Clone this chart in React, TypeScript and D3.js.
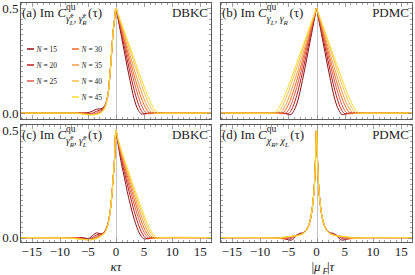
import { useEffect, useRef } from "react";
import * as d3 from "d3";

// time grid shared by every curve (kappa*tau or |mu_F|*tau)
const tau = [-17, -8, -7.5, -7, -6.5, -6, -5.5, -5, -4.5, -4, -3.5, -3, -2.5, -2, -1.5, -1, -0.5, -0.25,
  0, 0.25, 0.5, 1, 1.5, 2, 2.5, 3, 3.5, 4, 4.5, 5, 5.5, 6, 6.5, 7, 7.5, 8, 17];

const nList = [15, 20, 25, 30, 35, 40, 45];
const colors = ["#8e1111", "#b81d1d", "#e2574b", "#f26a1e", "#f59a42", "#f8bf4c", "#fbdc2e"];
const xTicks = [-15, -10, -5, 0, 5, 10, 15];
const yTicks = [0, 0.5];

// (a) DBKC  gamma_L, gamma_R
const a15 = [0, 0, 0, 0, 0, 0, 0.001, 0.002, 0.006, 0.012, 0.018, 0.02, 0.022, 0.036, 0.08, 0.21, 0.39, 0.45, 0.5, 0.465, 0.43, 0.36, 0.29, 0.22, 0.155, 0.092, 0.043, 0.012, -0.004, -0.004, -0.001, 0, 0, 0, 0, 0, 0];
const a20 = [0, 0, 0, 0, 0, 0, 0, 0, -0.002, 0.002, 0.008, 0.014, 0.018, 0.033, 0.078, 0.21, 0.39, 0.45, 0.5, 0.47, 0.44, 0.378, 0.316, 0.254, 0.193, 0.135, 0.084, 0.042, 0.012, -0.003, -0.003, 0, 0, 0, 0, 0, 0];
const a25 = [0, 0, 0, 0, 0, 0, 0, -0.002, -0.004, -0.004, 0, 0.008, 0.014, 0.031, 0.077, 0.21, 0.39, 0.45, 0.5, 0.472, 0.445, 0.39, 0.335, 0.28, 0.225, 0.172, 0.122, 0.078, 0.04, 0.012, -0.002, -0.003, 0, 0, 0, 0, 0];
const a30 = [0, 0, 0, 0, 0, 0, -0.002, -0.004, -0.006, -0.006, -0.004, 0.002, 0.01, 0.029, 0.076, 0.21, 0.39, 0.45, 0.5, 0.475, 0.45, 0.4, 0.35, 0.3, 0.25, 0.202, 0.155, 0.111, 0.072, 0.039, 0.014, -0.001, -0.003, 0, 0, 0, 0];
const a35 = [0, 0, 0, 0, 0, -0.002, -0.004, -0.006, -0.007, -0.007, -0.005, 0, 0.008, 0.027, 0.075, 0.21, 0.39, 0.45, 0.5, 0.477, 0.455, 0.41, 0.365, 0.32, 0.275, 0.23, 0.186, 0.144, 0.104, 0.067, 0.036, 0.013, -0.001, -0.002, 0, 0, 0];
const a40 = [0, 0, 0, 0, -0.002, -0.004, -0.006, -0.007, -0.008, -0.008, -0.006, -0.002, 0.006, 0.026, 0.074, 0.21, 0.39, 0.45, 0.5, 0.48, 0.46, 0.42, 0.38, 0.34, 0.299, 0.258, 0.217, 0.177, 0.138, 0.1, 0.065, 0.035, 0.013, -0.001, -0.002, 0, 0];
const a45 = [0, 0, 0, -0.002, -0.003, -0.005, -0.007, -0.008, -0.009, -0.008, -0.006, -0.003, 0.005, 0.025, 0.074, 0.21, 0.39, 0.45, 0.5, 0.481, 0.463, 0.426, 0.389, 0.351, 0.314, 0.276, 0.238, 0.2, 0.163, 0.127, 0.092, 0.06, 0.033, 0.012, 0, -0.001, 0];

// (b) PDMC  gamma_L, gamma_R
const b15 = [0, 0, 0, 0, 0, 0, -0.001, -0.006, -0.007, 0.012, 0.043, 0.092, 0.155, 0.22, 0.29, 0.36, 0.43, 0.465, 0.5, 0.465, 0.43, 0.36, 0.29, 0.22, 0.155, 0.092, 0.043, 0.012, -0.007, -0.006, -0.001, 0, 0, 0, 0, 0, 0];
const b20 = [0, 0, 0, 0, 0, 0, -0.003, -0.003, 0.012, 0.042, 0.084, 0.135, 0.193, 0.254, 0.316, 0.378, 0.44, 0.47, 0.5, 0.47, 0.44, 0.378, 0.316, 0.254, 0.193, 0.135, 0.084, 0.042, 0.012, -0.003, -0.003, 0, 0, 0, 0, 0, 0];
const b25 = [0, 0, 0, 0, 0, -0.003, -0.002, 0.012, 0.04, 0.078, 0.122, 0.172, 0.225, 0.28, 0.335, 0.39, 0.445, 0.472, 0.5, 0.472, 0.445, 0.39, 0.335, 0.28, 0.225, 0.172, 0.122, 0.078, 0.04, 0.012, -0.002, -0.003, 0, 0, 0, 0, 0];
const b30 = [0, 0, 0, 0, -0.003, -0.001, 0.014, 0.039, 0.072, 0.111, 0.155, 0.202, 0.25, 0.3, 0.35, 0.4, 0.45, 0.475, 0.5, 0.475, 0.45, 0.4, 0.35, 0.3, 0.25, 0.202, 0.155, 0.111, 0.072, 0.039, 0.014, -0.001, -0.003, 0, 0, 0, 0];
const b35 = [0, 0, 0, -0.002, -0.001, 0.013, 0.036, 0.067, 0.104, 0.144, 0.186, 0.23, 0.275, 0.32, 0.365, 0.41, 0.455, 0.477, 0.5, 0.477, 0.455, 0.41, 0.365, 0.32, 0.275, 0.23, 0.186, 0.144, 0.104, 0.067, 0.036, 0.013, -0.001, -0.002, 0, 0, 0];
const b40 = [0, 0, -0.002, -0.001, 0.013, 0.035, 0.065, 0.1, 0.138, 0.177, 0.217, 0.258, 0.299, 0.34, 0.38, 0.42, 0.46, 0.48, 0.5, 0.48, 0.46, 0.42, 0.38, 0.34, 0.299, 0.258, 0.217, 0.177, 0.138, 0.1, 0.065, 0.035, 0.013, -0.001, -0.002, 0, 0];
const b45 = [0, -0.001, 0, 0.012, 0.033, 0.06, 0.092, 0.127, 0.163, 0.2, 0.238, 0.276, 0.314, 0.351, 0.389, 0.426, 0.463, 0.481, 0.5, 0.481, 0.463, 0.426, 0.389, 0.351, 0.314, 0.276, 0.238, 0.2, 0.163, 0.127, 0.092, 0.06, 0.033, 0.012, 0, -0.001, 0];

// (c) DBKC  gamma_R, gamma_L
const c15 = [0, 0, 0, 0, 0, 0, -0.002, -0.004, 0.002, 0.014, 0.022, 0.02, 0.018, 0.03, 0.06, 0.13, 0.28, 0.37, 0.5, 0.455, 0.415, 0.34, 0.28, 0.215, 0.16, 0.108, 0.065, 0.03, 0.006, -0.006, -0.005, -0.001, 0, 0, 0, 0, 0];
const c20 = [0, 0, 0, 0, 0, -0.002, -0.005, -0.007, -0.004, 0.004, 0.012, 0.016, 0.018, 0.028, 0.058, 0.13, 0.28, 0.37, 0.5, 0.46, 0.425, 0.36, 0.305, 0.25, 0.197, 0.147, 0.1, 0.06, 0.028, 0.006, -0.005, -0.004, 0, 0, 0, 0, 0];
const c25 = [0, 0, 0, 0, -0.002, -0.005, -0.008, -0.009, -0.007, -0.002, 0.005, 0.011, 0.016, 0.027, 0.057, 0.13, 0.28, 0.37, 0.5, 0.463, 0.43, 0.372, 0.322, 0.272, 0.224, 0.177, 0.132, 0.09, 0.054, 0.025, 0.005, -0.004, -0.003, 0, 0, 0, 0];
const c30 = [0, 0, 0, -0.002, -0.004, -0.007, -0.009, -0.01, -0.009, -0.005, 0, 0.007, 0.014, 0.026, 0.056, 0.13, 0.28, 0.37, 0.5, 0.466, 0.435, 0.382, 0.336, 0.29, 0.245, 0.2, 0.157, 0.116, 0.078, 0.045, 0.02, 0.003, -0.004, -0.002, 0, 0, 0];
const c35 = [0, 0, -0.002, -0.004, -0.006, -0.008, -0.009, -0.01, -0.01, -0.007, -0.003, 0.004, 0.012, 0.025, 0.055, 0.13, 0.28, 0.37, 0.5, 0.468, 0.44, 0.39, 0.347, 0.304, 0.262, 0.22, 0.179, 0.139, 0.101, 0.066, 0.037, 0.015, 0.001, -0.004, -0.002, 0, 0];
const c40 = [0, -0.002, -0.003, -0.005, -0.007, -0.008, -0.009, -0.01, -0.01, -0.008, -0.004, 0.002, 0.011, 0.024, 0.054, 0.13, 0.28, 0.37, 0.5, 0.47, 0.444, 0.397, 0.356, 0.316, 0.276, 0.236, 0.197, 0.159, 0.122, 0.087, 0.055, 0.029, 0.01, -0.002, -0.003, 0, 0];
const c45 = [0, -0.003, -0.004, -0.006, -0.007, -0.008, -0.009, -0.01, -0.01, -0.008, -0.005, 0.001, 0.01, 0.023, 0.053, 0.13, 0.28, 0.37, 0.5, 0.472, 0.447, 0.403, 0.364, 0.326, 0.288, 0.25, 0.213, 0.176, 0.14, 0.105, 0.072, 0.043, 0.02, 0.005, -0.002, -0.001, 0];

// (d) PDMC  chi_R, chi_L
const d15 = [0, 0, 0, 0, 0, 0, -0.004, -0.01, -0.012, -0.004, 0.012, 0.02, 0.022, 0.03, 0.05, 0.095, 0.2, 0.31, 0.5, 0.31, 0.2, 0.095, 0.05, 0.03, 0.022, 0.02, 0.012, -0.004, -0.012, -0.01, -0.004, 0, 0, 0, 0, 0, 0];
const d20 = [0, 0, 0, 0, 0, -0.003, -0.007, -0.008, -0.004, 0.004, 0.012, 0.016, 0.02, 0.029, 0.05, 0.095, 0.2, 0.31, 0.5, 0.31, 0.2, 0.095, 0.05, 0.029, 0.02, 0.016, 0.012, 0.004, -0.004, -0.008, -0.007, -0.003, 0, 0, 0, 0, 0];
const d25 = [0, 0, 0, 0, -0.002, -0.005, -0.006, -0.003, 0.002, 0.007, 0.011, 0.014, 0.019, 0.028, 0.05, 0.095, 0.2, 0.31, 0.5, 0.31, 0.2, 0.095, 0.05, 0.028, 0.019, 0.014, 0.011, 0.007, 0.002, -0.003, -0.006, -0.005, -0.002, 0, 0, 0, 0];
const d30 = [0, 0, 0, -0.002, -0.004, -0.005, -0.003, 0.001, 0.005, 0.008, 0.01, 0.013, 0.018, 0.028, 0.049, 0.095, 0.2, 0.31, 0.5, 0.31, 0.2, 0.095, 0.049, 0.028, 0.018, 0.013, 0.01, 0.008, 0.005, 0.001, -0.003, -0.005, -0.004, -0.002, 0, 0, 0];
const d35 = [0, 0, -0.001, -0.003, -0.004, -0.002, 0.001, 0.004, 0.006, 0.008, 0.009, 0.012, 0.018, 0.028, 0.049, 0.095, 0.2, 0.31, 0.5, 0.31, 0.2, 0.095, 0.049, 0.028, 0.018, 0.012, 0.009, 0.008, 0.006, 0.004, 0.001, -0.002, -0.004, -0.003, -0.001, 0, 0];
const d40 = [0, 0, -0.002, -0.003, -0.002, 0.001, 0.003, 0.005, 0.006, 0.007, 0.009, 0.012, 0.017, 0.027, 0.049, 0.095, 0.2, 0.31, 0.5, 0.31, 0.2, 0.095, 0.049, 0.027, 0.017, 0.012, 0.009, 0.007, 0.006, 0.005, 0.003, 0.001, -0.002, -0.003, -0.002, 0, 0];
const d45 = [0, -0.001, -0.002, -0.002, 0, 0.002, 0.004, 0.005, 0.006, 0.007, 0.008, 0.012, 0.017, 0.027, 0.049, 0.095, 0.2, 0.31, 0.5, 0.31, 0.2, 0.095, 0.049, 0.027, 0.017, 0.012, 0.008, 0.007, 0.006, 0.005, 0.004, 0.002, 0, -0.002, -0.002, -0.001, 0];

const FONT = "'Liberation Serif', 'Times New Roman', serif";

const App = () => {
  const svgRef = useRef<SVGSVGElement>(null);

  useEffect(() => {
    const svg = d3.select(svgRef.current);
    svg.selectAll("*").remove();

    // subscript pieces for each panel title: text, size, offset from baseline, italic, dx
    const sub = (g: string, s1: string | null, l1: string, g2: string, s2: string | null, l2: string) => {
      const parts: any[] = [
        { t: g, s: 10, dy: 4.5, i: true, dx: -9.5 },
      ];
      if (s1) parts.push({ t: s1, s: 7, dy: 0.5 }, { t: l1, s: 7, dy: 7.5, i: true, dx: -3 });
      else parts.push({ t: l1, s: 7, dy: 7.5, i: true });
      parts.push({ t: ", ", s: 10, dy: 4.5 }, { t: g2, s: 10, dy: 4.5, i: true });
      if (s2) parts.push({ t: s2, s: 7, dy: 0.5 }, { t: l2, s: 7, dy: 7.5, i: true, dx: -3 });
      else parts.push({ t: l2, s: 7, dy: 7.5, i: true });
      return parts;
    };

    const panels = [
      { tag: "(a)", method: "DBKC", series: [a15, a20, a25, a30, a35, a40, a45], x0: 20, x1: 212, y0: 2, y1: 120,
        yDom: [-0.033, 0.529], sub: sub("\u03b3\u0303", "s", "L", "\u03b3\u0303", "s", "R"), left: true, bottom: false },
      { tag: "(b)", method: "PDMC", series: [b15, b20, b25, b30, b35, b40, b45], x0: 220, x1: 413, y0: 2, y1: 120,
        yDom: [-0.033, 0.529], sub: sub("\u03b3", null, "L", "\u03b3", null, "R"), left: false, bottom: false },
      { tag: "(c)", method: "DBKC", series: [c15, c20, c25, c30, c35, c40, c45], x0: 20, x1: 212, y0: 124, y1: 243,
        yDom: [-0.025, 0.53], sub: sub("\u03b3\u0303", "s", "R", "\u03b3\u0303", "s", "L"), left: true, bottom: true },
      { tag: "(d)", method: "PDMC", series: [d15, d20, d25, d30, d35, d40, d45], x0: 220, x1: 413, y0: 124, y1: 243,
        yDom: [-0.025, 0.53], sub: sub("\u03c7", null, "R", "\u03c7", null, "L"), left: false, bottom: true },
    ];

    panels.forEach((p, pi) => {
      const x = d3.scaleLinear().domain([-17.1, 17.1]).range([p.x0, p.x1]);
      const y = d3.scaleLinear().domain(p.yDom).range([p.y1, p.y0]);
      const g = svg.append("g");

      const clipId = "clip" + pi;
      svg.append("clipPath").attr("id", clipId)
        .append("rect").attr("x", p.x0).attr("y", p.y0).attr("width", p.x1 - p.x0).attr("height", p.y1 - p.y0);

      // zero line
      g.append("line")
        .attr("x1", Math.round(x(0)) + 0.5).attr("x2", Math.round(x(0)) + 0.5)
        .attr("y1", p.y0).attr("y2", p.y1)
        .attr("stroke", "#c4c4c4").attr("stroke-width", 1);

      const line = d3.line<number>()
        .x((_, i) => x(tau[i]))
        .y((d) => y(d))
        .curve(d3.curveCatmullRom.alpha(0.5));

      g.append("g").attr("clip-path", `url(#${clipId})`)
        .selectAll("path")
        .data(p.series)
        .enter()
        .append("path")
        .attr("d", (d) => line(d))
        .attr("fill", "none")
        .attr("stroke", (_, i) => colors[i])
        .attr("stroke-width", 1);

      // frame
      g.append("rect")
        .attr("x", p.x0 + 0.5).attr("y", p.y0 + 0.5)
        .attr("width", p.x1 - p.x0 - 1).attr("height", p.y1 - p.y0 - 1)
        .attr("fill", "none").attr("stroke", "#5a5a5a").attr("stroke-width", 1);

      // ticks along all four sides, pointing inward
      const tickCol = "#8a8a8a";
      d3.range(-17, 18).forEach((t) => {
        const major = t % 5 === 0;
        const len = major ? 4 : 2;
        const xx = Math.round(x(t)) + 0.5;
        g.append("line").attr("x1", xx).attr("x2", xx).attr("y1", p.y1 - 1).attr("y2", p.y1 - 1 - len)
          .attr("stroke", tickCol).attr("stroke-width", 0.8);
        g.append("line").attr("x1", xx).attr("x2", xx).attr("y1", p.y0 + 1).attr("y2", p.y0 + 1 + len)
          .attr("stroke", tickCol).attr("stroke-width", 0.8);
      });
      d3.range(-1, 22).map((k) => k * 0.025).forEach((v) => {
        if (y(v) < p.y0 + 1 || y(v) > p.y1 - 1) return;
        const major = yTicks.some((t) => Math.abs(t - v) < 1e-6);
        const len = major ? 4 : 2;
        const yy = Math.round(y(v)) + 0.5;
        g.append("line").attr("x1", p.x0 + 1).attr("x2", p.x0 + 1 + len).attr("y1", yy).attr("y2", yy)
          .attr("stroke", tickCol).attr("stroke-width", 0.8);
        g.append("line").attr("x1", p.x1 - 1).attr("x2", p.x1 - 1 - len).attr("y1", yy).attr("y2", yy)
          .attr("stroke", tickCol).attr("stroke-width", 0.8);
      });

      if (p.left) {
        yTicks.forEach((t) => {
          g.append("text").attr("x", p.x0 - 1.5).attr("y", y(t) + 4.5)
            .attr("text-anchor", "end").attr("font-family", FONT).attr("font-size", 13)
            .attr("fill", "#222").text(d3.format(".1f")(t));
        });
      }
      if (p.bottom) {
        xTicks.forEach((t) => {
          g.append("text").attr("x", x(t)).attr("y", p.y1 + 13)
            .attr("text-anchor", "middle").attr("font-family", FONT).attr("font-size", 13)
            .attr("fill", "#222").text(t < 0 ? "\u2212" + Math.abs(t) : String(t));
        });
      }

      // title
      const base = p.y0 + 15;
      const title = g.append("text").attr("x", p.x0 + 2).attr("y", base)
        .attr("font-family", FONT).attr("font-size", 13).attr("fill", "#222");
      const parts = [
        { t: p.tag + " Im ", s: 13, dy: 0 },
        { t: "C", s: 13, dy: 0, i: true },
        { t: "qu", s: 9.5, dy: -7.5 },
        ...p.sub,
        { t: "(\u03c4)", s: 13, dy: 0, dx: 1.5 },
      ];
      parts.forEach((q: any) => {
        const ts = title.append("tspan").attr("y", base + q.dy).attr("font-size", q.s).text(q.t);
        if (q.i) ts.attr("font-style", "italic");
        if (q.dx) ts.attr("dx", q.dx);
      });

      g.append("text").attr("x", p.x1 - 4).attr("y", base)
        .attr("text-anchor", "end").attr("font-family", FONT).attr("font-size", 13)
        .attr("fill", "#222").text(p.method);

      // legend only in panel (a)
      if (pi === 0) {
        nList.forEach((n, i) => {
          const col = i < 3 ? 0 : 1;
          const row = i < 3 ? i : i - 3;
          const lx = col === 0 ? 27 : 72;
          const ly = 49 + row * 16;
          g.append("line").attr("x1", lx).attr("x2", lx + 7).attr("y1", ly).attr("y2", ly)
            .attr("stroke", colors[i]).attr("stroke-width", 1.5);
          const tx = g.append("text").attr("x", lx + 9.5).attr("y", ly + 2.5)
            .attr("font-family", FONT).attr("font-size", 7.5).attr("fill", "#222");
          tx.append("tspan").attr("font-style", "italic").text("N");
          tx.append("tspan").text(" = " + n);
        });
      }
    });

    // axis labels
    const lab1 = svg.append("text").attr("x", 116).attr("y", 271).attr("text-anchor", "middle")
      .attr("font-family", FONT).attr("font-size", 13).attr("font-style", "italic").attr("fill", "#222");
    lab1.text("\u03ba\u03c4");
    const lab2 = svg.append("text").attr("x", 316).attr("y", 271).attr("text-anchor", "middle")
      .attr("font-family", FONT).attr("font-size", 13).attr("fill", "#222");
    lab2.append("tspan").text("|");
    lab2.append("tspan").attr("font-style", "italic").text("\u03bc");
    lab2.append("tspan").attr("font-style", "italic").attr("font-size", 9).attr("y", 274).text("F");
    lab2.append("tspan").attr("y", 271).text("|");
    lab2.append("tspan").attr("font-style", "italic").text("\u03c4");
  }, []);

  return (
    <svg ref={svgRef} width={415} height={275}
      style={{ position: "absolute", left: 0, top: 0, background: "#fff" }} />
  );
};

export default App;
